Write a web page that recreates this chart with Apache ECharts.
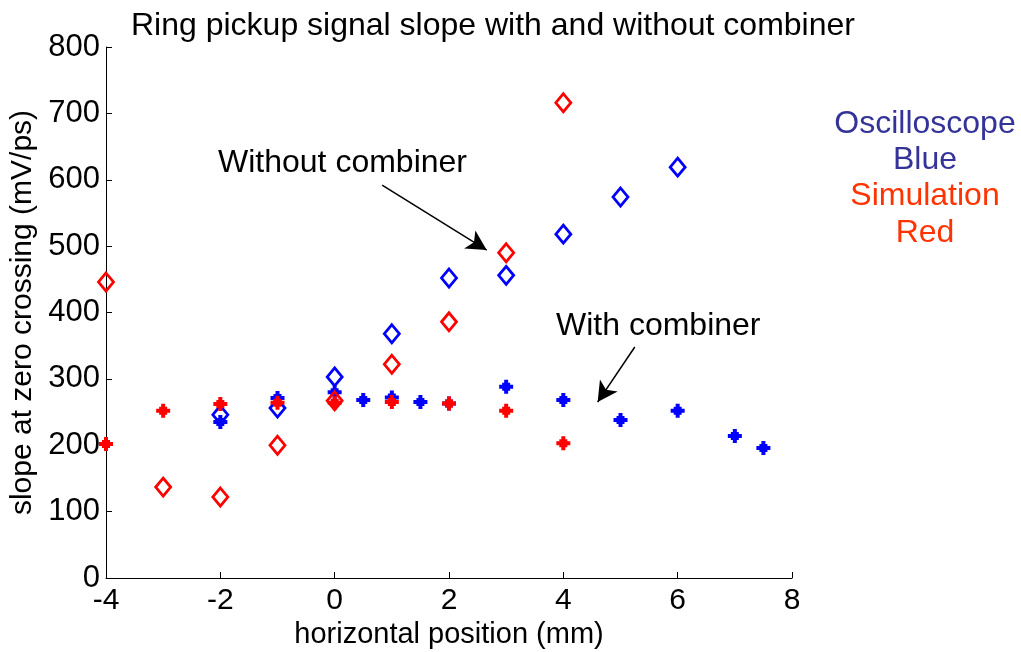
<!DOCTYPE html>
<html>
<head>
<meta charset="utf-8">
<script src="https://cdn.jsdelivr.net/npm/echarts@6/dist/echarts.min.js"></script>
<style>
  html, body { margin: 0; padding: 0; background: #fff; }
  #main { width: 1021px; height: 652px; }
</style>
</head>
<body>
<div id="main"></div>
<script>
// Oscilloscope (blue) and simulation (red), without combiner (diamonds) and with combiner (stars)
var scopeNoCombX = [-2, -1, 0, 1, 2, 3, 4, 5, 6];
var scopeNoCombY = [246, 256, 303, 368, 452, 456, 518, 574, 619];

var scopeCombX = [-2, -1, 0, 0.5, 1, 1.5, 2, 3, 4, 5, 6, 7, 7.5];
var scopeCombY = [235, 271, 280, 268, 272, 265, 263, 288, 268, 238, 252, 214, 196];

var simNoCombX = [-4, -3, -2, -1, 0, 1, 2, 3, 4];
var simNoCombY = [446, 137, 122, 200, 267, 322, 386, 490, 716];

var simCombX = [-4, -3, -2, -1, 0, 1, 2, 3, 4];
var simCombY = [202, 252, 262, 264, 264, 265, 263, 252, 203];

var xTicks = [-4, -2, 0, 2, 4, 6, 8];
var yTicks = [0, 100, 200, 300, 400, 500, 600, 700, 800];

var FONT = 'Liberation Sans, Arial, sans-serif';
var STAR = 'path://M5,0H9V5H14V9H9V14H5V9H0V5H5Z M3,3H11V11H3Z';

function pairs(xs, ys) {
  return xs.map(function (x, i) { return [x, ys[i]]; });
}

var chartDom = document.getElementById('main');
var myChart = echarts.init(chartDom);

function diamond(name, xs, ys, color) {
  return {
    name: name,
    type: 'scatter',
    data: pairs(xs, ys),
    symbol: 'diamond',
    symbolSize: [15, 18],
    itemStyle: { color: 'rgba(0,0,0,0)', borderColor: color, borderWidth: 2.8, opacity: 1 },
    animation: false
  };
}

function star(name, xs, ys, color) {
  return {
    name: name,
    type: 'scatter',
    data: pairs(xs, ys),
    symbol: STAR,
    symbolSize: 14,
    itemStyle: { color: color, opacity: 1 },
    animation: false
  };
}

var option = {
  backgroundColor: '#fff',
  title: {
    text: 'Ring pickup signal slope with and without combiner',
    left: 126,
    top: 5,
    textStyle: { fontSize: 32, fontWeight: 'normal', fontFamily: FONT, color: '#000' }
  },
  grid: { left: 106, right: 229, top: 47, bottom: 74, outerBoundsMode: 'none', containLabel: false },
  xAxis: {
    type: 'value',
    min: -4,
    max: 8,
    interval: 2,
    name: 'horizontal position (mm)',
    nameLocation: 'middle',
    nameGap: 42,
    nameTextStyle: { fontSize: 29, fontFamily: FONT, color: '#000' },
    axisLine: { onZero: false, lineStyle: { color: '#000', width: 1 } },
    axisTick: { inside: true, length: 6, lineStyle: { color: '#000' } },
    axisLabel: {
      fontSize: 30, fontFamily: FONT, color: '#000', margin: 8,
      formatter: function (v) { return xTicks.indexOf(v) >= 0 ? String(v) : ''; }
    },
    splitLine: { show: false }
  },
  yAxis: {
    type: 'value',
    min: 0,
    max: 800,
    interval: 100,
    name: 'slope at zero crossing (mV/ps)',
    nameLocation: 'middle',
    nameGap: 65,
    nameTextStyle: { fontSize: 30, fontFamily: FONT, color: '#000' },
    axisLine: { show: true, onZero: false, lineStyle: { color: '#000', width: 1 } },
    axisTick: { show: true, inside: true, length: 6, lineStyle: { color: '#000' } },
    axisLabel: {
      fontSize: 31, fontFamily: FONT, color: '#000', margin: 6,
      formatter: function (v) { return yTicks.indexOf(v) >= 0 ? String(v) : ''; }
    },
    splitLine: { show: false }
  },
  series: [
    diamond('Oscilloscope without combiner', scopeNoCombX, scopeNoCombY, '#0000ff'),
    star('Oscilloscope with combiner', scopeCombX, scopeCombY, '#0000ff'),
    diamond('Simulation without combiner', simNoCombX, simNoCombY, '#ff0000'),
    star('Simulation with combiner', simCombX, simCombY, '#ff0000'),
    {
      type: 'scatter',
      data: [],
      silent: true,
      markLine: {
        silent: true,
        animation: false,
        symbol: ['none', 'arrow'],
        symbolSize: [16, 20],
        label: { show: false },
        lineStyle: { color: '#000', width: 1.5, type: 'solid' },
        data: [
          [{ coord: [0.83, 592] }, { coord: [2.66, 494] }],
          [{ coord: [5.25, 348] }, { coord: [4.6, 265] }]
        ]
      }
    }
  ],
  graphic: [
    { type: 'text', left: 218, top: 147, style: { text: 'Without combiner', fontSize: 32, fontFamily: FONT, fill: '#000' } },
    { type: 'text', left: 556, top: 310, style: { text: 'With combiner', fontSize: 32, fontFamily: FONT, fill: '#000' } },
    { type: 'text', x: 925, y: 124, style: { text: 'Oscilloscope', fontSize: 32, fontFamily: FONT, fill: '#333399', align: 'center', verticalAlign: 'middle' } },
    { type: 'text', x: 925, y: 160, style: { text: 'Blue', fontSize: 32, fontFamily: FONT, fill: '#333399', align: 'center', verticalAlign: 'middle' } },
    { type: 'text', x: 925, y: 196, style: { text: 'Simulation', fontSize: 32, fontFamily: FONT, fill: '#ff3300', align: 'center', verticalAlign: 'middle' } },
    { type: 'text', x: 925, y: 233, style: { text: 'Red', fontSize: 32, fontFamily: FONT, fill: '#ff3300', align: 'center', verticalAlign: 'middle' } }
  ]
};

myChart.setOption(option);

window.addEventListener('resize', function () { myChart.resize(); });
</script>
</body>
</html>
